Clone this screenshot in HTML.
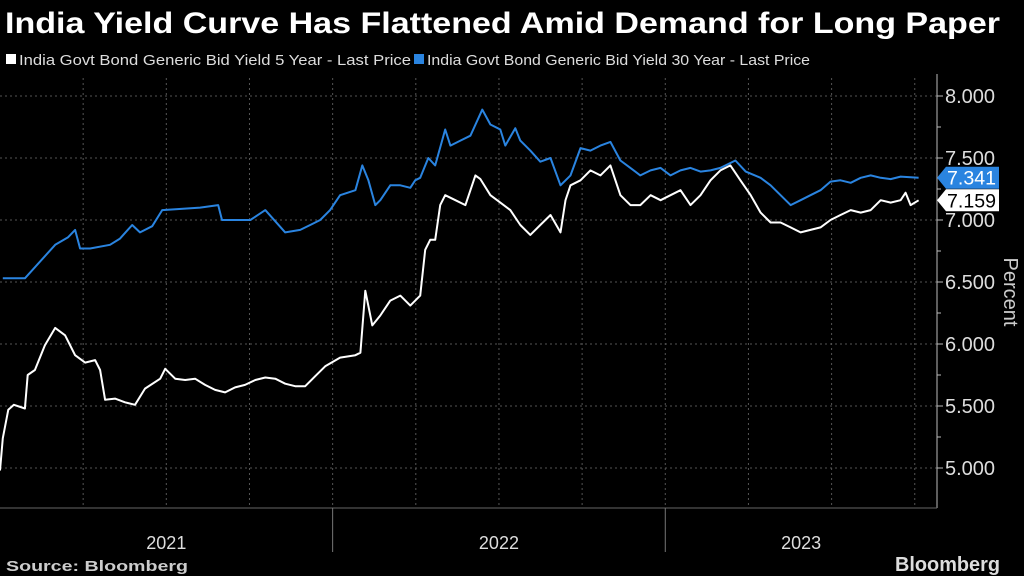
<!DOCTYPE html>
<html><head><meta charset="utf-8"><style>
html,body{margin:0;padding:0;background:#000;width:1024px;height:576px;overflow:hidden;font-family:"Liberation Sans",sans-serif;color:#fff}
</style></head><body>
<svg width="1024" height="576" xmlns="http://www.w3.org/2000/svg">
<text x="5" y="33" font-size="30" font-weight="bold" fill="#fff" textLength="995" lengthAdjust="spacingAndGlyphs">India Yield Curve Has Flattened Amid Demand for Long Paper</text>
<g font-size="15" fill="#ddd">
<rect x="6" y="54" width="10" height="10" fill="#fff"/>
<text x="19" y="65" textLength="392" lengthAdjust="spacingAndGlyphs">India Govt Bond Generic Bid Yield 5 Year - Last Price</text>
<rect x="414" y="54" width="10" height="10" fill="#2a84e0"/>
<text x="427" y="65" textLength="383" lengthAdjust="spacingAndGlyphs">India Govt Bond Generic Bid Yield 30 Year - Last Price</text>
</g>
<g id="grid"></g>
<g id="axes"></g>
<g id="series"></g>
<g id="tags"></g>
<text transform="translate(1004,292) rotate(90)" font-size="20" fill="#ccc" text-anchor="middle">Percent</text>
<text x="6" y="571" font-size="15" font-weight="bold" fill="#ccc" textLength="182" lengthAdjust="spacingAndGlyphs">Source: Bloomberg</text>
<text x="1000" y="571" font-size="20" font-weight="bold" fill="#ddd" text-anchor="end" textLength="105" lengthAdjust="spacingAndGlyphs">Bloomberg</text>
</svg>
<script>
const t5=[0,.1,.3,.5,.9,1.0,1.26,1.62,1.99,2.35,2.71,3.07,3.43,3.61,3.79,4.15,4.51,4.87,5.23,5.78,5.96,6.32,6.68,7.04,7.4,7.76,8.12,8.48,8.84,9.21,9.57,9.93,10.29,10.65,11.01,11.37,11.73,12.27,12.82,13.0,13.18,13.43,13.72,14.08,14.44,14.8,15.16,15.34,15.52,15.7,15.88,16.06,16.43,16.79,17.15,17.33,17.69,18.05,18.41,18.77,19.13,19.49,19.86,20.22,20.4,20.58,20.94,21.3,21.66,22.02,22.38,22.74,23.1,23.47,23.83,24.19,24.55,24.91,25.27,25.63,25.99,26.35,26.71,27.08,27.44,27.8,28.16,28.52,28.88,29.24,29.6,29.96,30.32,30.69,31.05,31.41,31.77,32.13,32.49,32.67,32.85,33.14];
const v5=[4.98,5.24,5.47,5.51,5.48,5.75,5.79,5.99,6.13,6.07,5.91,5.85,5.87,5.79,5.55,5.56,5.53,5.51,5.64,5.72,5.8,5.72,5.71,5.72,5.67,5.63,5.61,5.65,5.67,5.71,5.73,5.72,5.68,5.66,5.66,5.74,5.82,5.89,5.91,5.93,6.43,6.15,6.23,6.35,6.39,6.31,6.39,6.76,6.84,6.84,7.12,7.2,7.16,7.12,7.36,7.33,7.2,7.14,7.08,6.96,6.88,6.96,7.04,6.9,7.16,7.28,7.32,7.4,7.36,7.44,7.2,7.12,7.12,7.2,7.16,7.2,7.24,7.12,7.2,7.32,7.4,7.44,7.32,7.2,7.06,6.98,6.98,6.94,6.9,6.92,6.94,7.0,7.04,7.08,7.06,7.08,7.16,7.14,7.16,7.22,7.12,7.159];
const t30=[.1,.9,1.99,2.45,2.71,2.89,3.25,3.97,4.33,4.77,5.05,5.49,5.85,7.22,7.87,8.01,9.03,9.57,10.29,10.83,11.19,11.55,11.91,12.27,12.82,13.07,13.29,13.54,13.72,14.08,14.44,14.8,14.98,15.16,15.45,15.7,16.06,16.25,16.61,16.97,17.4,17.69,18.05,18.23,18.59,18.77,19.13,19.49,19.86,20.22,20.58,20.94,21.3,21.66,22.02,22.38,22.74,23.1,23.47,23.83,24.19,24.55,24.91,25.27,25.63,25.99,26.53,26.9,27.44,27.8,28.16,28.52,28.88,29.24,29.6,29.96,30.32,30.69,31.05,31.41,31.77,32.13,32.49,33.14];
const v30=[6.53,6.53,6.8,6.86,6.92,6.77,6.77,6.8,6.85,6.96,6.9,6.95,7.08,7.1,7.12,7.0,7.0,7.08,6.9,6.92,6.96,7.0,7.08,7.2,7.24,7.44,7.32,7.12,7.16,7.28,7.28,7.26,7.32,7.34,7.5,7.44,7.73,7.6,7.64,7.68,7.89,7.77,7.73,7.6,7.74,7.64,7.56,7.47,7.5,7.28,7.36,7.58,7.56,7.6,7.63,7.48,7.42,7.36,7.4,7.42,7.36,7.4,7.42,7.39,7.4,7.42,7.48,7.39,7.34,7.28,7.2,7.12,7.16,7.2,7.24,7.31,7.32,7.3,7.34,7.36,7.34,7.33,7.35,7.341];
const yTicks=[5.0,5.5,6.0,6.5,7.0,7.5,8.0];
const yearLabels=["2021","2022","2023"];
const quarterMonths=[3,6,9,12,15,18,21,24,27,30,33];
const NS="http://www.w3.org/2000/svg";
const X=m=>m*27.72;
const Y=v=>96+(8-v)*124;
function mk(tag,attrs,parent){const e=document.createElementNS(NS,tag);for(const k in attrs)e.setAttribute(k,attrs[k]);document.getElementById(parent).appendChild(e);return e;}
yTicks.forEach(v=>{
 const g=mk('line',{x1:0,x2:937,y1:Y(v),y2:Y(v),stroke:'#555','stroke-dasharray':'2,3'},'grid');
 
 
 const tk=mk('line',{x1:937,x2:943,y1:Y(v),y2:Y(v),stroke:'#bbb'},'axes');
 
 
 const tx=mk('text',{x:945,y:Y(v)+7,'font-size':20,fill:'#ddd'},'axes');
 tx.textContent=v.toFixed(3);
 
 
 if(v<8){const mt=mk('line',{x1:937,x2:941,y1:Y(v+0.25),y2:Y(v+0.25),stroke:'#bbb'},'axes');
 
 }
});
quarterMonths.forEach(m=>{
 const g=mk('line',{x1:X(m),x2:X(m),y1:78,y2:508,stroke:'#555','stroke-dasharray':'2,3'},'grid');
 
 
});
const ax=mk('line',{x1:937,x2:937,y1:74,y2:508,stroke:'#bbb'},'axes');


const bx=mk('line',{x1:0,x2:937,y1:508,y2:508,stroke:'#666'},'axes');


yearLabels.forEach((lab,i)=>{
 const start=i*12,end=Math.min(i*12+12,33.8);
 const t=mk('text',{x:(X(start)+X(end))/2,y:549,'font-size':18,fill:'#ddd','text-anchor':'middle'},'axes');
 t.textContent=lab;
 
 
 if(i>0){const d=mk('line',{x1:X(start),x2:X(start),y1:508,y2:552,stroke:'#777'},'axes');
 
 }
});
function line(ts,vs,color,name){
 const d=ts.map((t,i)=>(i?'L':'M')+X(t).toFixed(1)+','+Y(vs[i]).toFixed(1)).join('');
 const p=mk('path',{d:d,fill:'none',stroke:color,'stroke-width':2,'stroke-linejoin':'round'},'series');
 
 
}
line(t30,v30,'#2a84e0','line-30y');
line(t5,v5,'#ffffff','line-5y');
function tag(v,bg,fg,name){
 const y=Y(v);
 const p=mk('path',{d:`M937,${y}L946,${y-11}H999V${y+11}H946Z`,fill:bg},'tags');
 
 
 const t=mk('text',{x:947,y:y+7,'font-size':19,fill:fg,textLength:49,lengthAdjust:'spacingAndGlyphs'},'tags');
 t.textContent=v.toFixed(3);
 
 
}
tag(v30[v30.length-1],'#2a84e0','#fff','last-value-30y');
tag(v5[v5.length-1],'#fff','#000','last-value-5y');
</script>
</body></html>
